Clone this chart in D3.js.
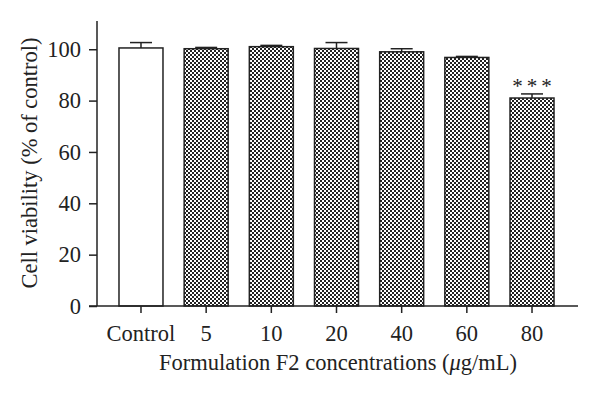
<!DOCTYPE html>
<html>
<head>
<meta charset="utf-8">
<script src="https://cdn.jsdelivr.net/npm/d3@7"></script>
<style>
  body { margin: 0; background: #fff; }
  text { font-family: "Liberation Serif", "DejaVu Serif", serif; fill: #222; }
</style>
</head>
<body>
<div id="chart"></div>
<script>
var categories = ["Control", "5", "10", "20", "40", "60", "80"];
var means = [100.5, 100.2, 101.0, 100.3, 99.0, 96.8, 81.0];
var errors = [2.1, 0.5, 0.5, 2.3, 1.2, 0.4, 1.6];
var yTicks = [0, 20, 40, 60, 80, 100];
var signif = ["", "", "", "", "", "", "***"];

var W = 600, H = 397;
var ink = "#222";
var fs = "22.5px";

var svg = d3.select("#chart")
    .append("svg")
      .attr("width", W)
      .attr("height", H);

// checkerboard fill for the F2 bars
var cell = 2;
var pat = svg.append("defs")
    .append("pattern")
      .attr("id", "checker")
      .attr("patternUnits", "userSpaceOnUse")
      .attr("width", cell * 2)
      .attr("height", cell * 2);
pat.append("rect").attr("width", cell * 2).attr("height", cell * 2).style("fill", "#fff");
pat.append("rect").attr("width", cell).attr("height", cell).style("fill", ink);
pat.append("rect").attr("x", cell).attr("y", cell).attr("width", cell).attr("height", cell).style("fill", ink);

var x = d3.scaleBand()
    .domain(categories)
    .range([108.4, 564.6])
    .paddingInner(0.325)
    .paddingOuter(0.1625);

var y = d3.scaleLinear()
    .domain([0, 111])
    .range([306, 21]);

var rows = categories.map(function(c, i) {
  return { cat: c, mean: means[i], err: errors[i], star: signif[i], idx: i };
});

// bars
svg.selectAll("rect.bar")
    .data(rows)
  .enter().append("rect")
    .attr("class", "bar")
    .attr("x", function(d) { return x(d.cat); })
    .attr("y", function(d) { return y(d.mean); })
    .attr("width", x.bandwidth())
    .attr("height", function(d) { return y(0) - y(d.mean); })
    .style("fill", function(d) { return d.idx == 0 ? "#fff" : "url(#checker)"; })
    .style("stroke", ink)
    .style("stroke-width", 1.5);

// error bars (upper only)
var eb = svg.selectAll("g.err")
    .data(rows)
  .enter().append("g")
    .attr("class", "err")
    .style("stroke", ink)
    .style("stroke-width", 1.5);
eb.append("line")
    .attr("x1", function(d) { return x(d.cat) + x.bandwidth() / 2; })
    .attr("x2", function(d) { return x(d.cat) + x.bandwidth() / 2; })
    .attr("y1", function(d) { return y(d.mean); })
    .attr("y2", function(d) { return y(d.mean + d.err); });
eb.append("line")
    .attr("x1", function(d) { return x(d.cat) + x.bandwidth() / 2 - 11; })
    .attr("x2", function(d) { return x(d.cat) + x.bandwidth() / 2 + 11; })
    .attr("y1", function(d) { return y(d.mean + d.err); })
    .attr("y2", function(d) { return y(d.mean + d.err); });

// significance stars
svg.selectAll("text.star")
    .data(rows.filter(function(d) { return d.star; }))
  .enter().append("text")
    .attr("class", "star")
    .attr("x", function(d) { return x(d.cat) + x.bandwidth() / 2 + 2; })
    .attr("y", function(d) { return y(d.mean + d.err) - 1; })
    .attr("text-anchor", "middle")
    .style("font-size", "21px")
    .style("letter-spacing", "4px")
    .text(function(d) { return d.star; });

// y axis
var yAxis = svg.append("g")
    .attr("transform", "translate(97,0)")
    .call(d3.axisLeft(y).tickValues(yTicks).tickSize(8).tickPadding(8));
yAxis.select(".domain").attr("d", "M0," + y(0) + "V21");

// x axis
var xAxis = svg.append("g")
    .attr("transform", "translate(0," + y(0) + ")")
    .call(d3.axisBottom(x).tickSize(7).tickPadding(12));
xAxis.select(".domain").attr("d", "M89,0H578");

svg.selectAll(".tick text").style("font-size", fs).style("fill", ink);
svg.selectAll(".domain, .tick line").style("stroke", ink).style("stroke-width", 1.5);

// axis titles
svg.append("text")
    .attr("x", 338)
    .attr("y", 370)
    .attr("text-anchor", "middle")
    .style("font-size", fs)
    .html("Formulation F2 concentrations (<tspan font-style='italic'>\u03bc</tspan>g/mL)");

svg.append("text")
    .attr("transform", "translate(37,163) rotate(-90)")
    .attr("text-anchor", "middle")
    .style("font-size", fs)
    .text("Cell viability (% of control)");
</script>
</body>
</html>
